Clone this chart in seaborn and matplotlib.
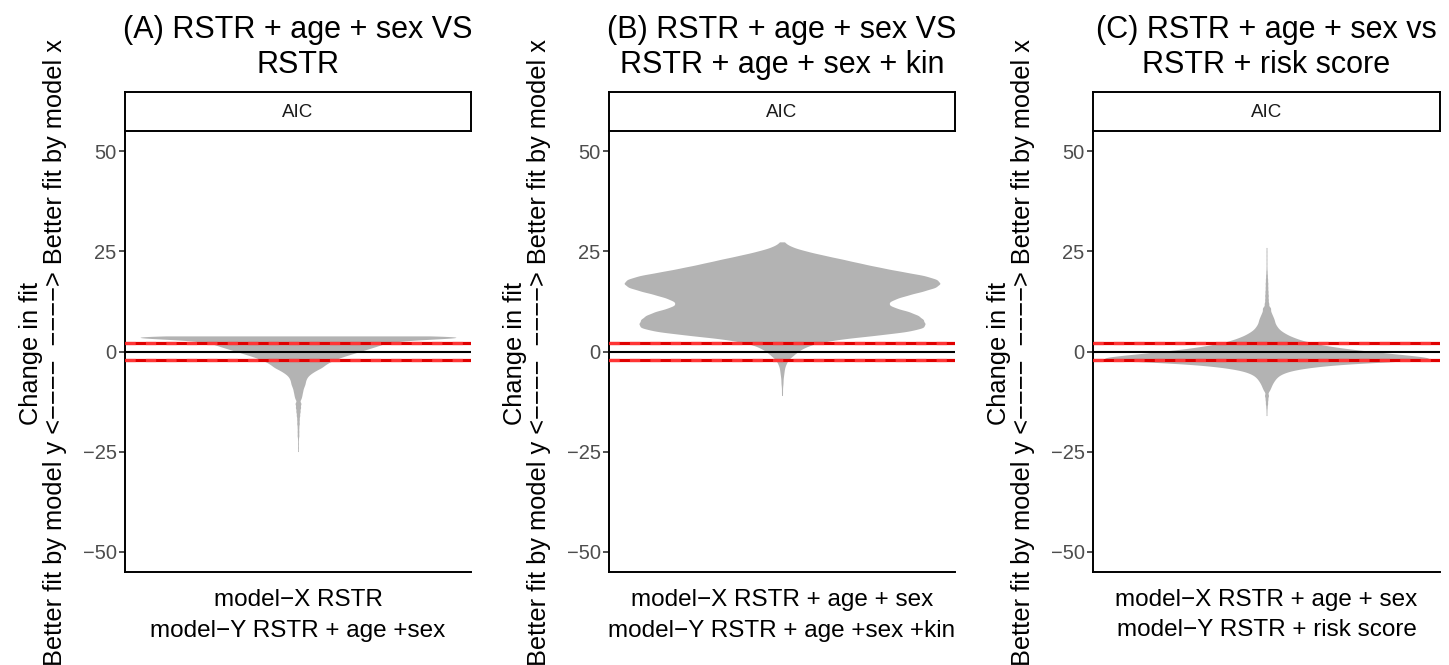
import numpy as np
import pandas as pd
import matplotlib
matplotlib.use("Agg")
import matplotlib.pyplot as plt
import seaborn as sns

sns.set_theme(style="white")
plt.rcParams["font.family"] = ["Liberation Sans", "DejaVu Sans"]

# ---- text ----
titles = [
    "(A) RSTR + age + sex VS\nRSTR",
    "(B) RSTR + age + sex VS\nRSTR + age + sex + kin",
    "(C) RSTR + age + sex vs\nRSTR + risk score",
]
xlabels = [
    "model\u2212X RSTR\nmodel\u2212Y RSTR + age +sex",
    "model\u2212X RSTR + age + sex\nmodel\u2212Y RSTR + age +sex +kin",
    "model\u2212X RSTR + age + sex\nmodel\u2212Y RSTR + risk score",
]
ylabel = ("Change in fit\n"
          "Better fit by model y <\u2212\u2212\u2212\u2212  \u2212\u2212\u2212\u2212> Better fit by model x")
strip_label = "AIC"
yticks = [-50, -25, 0, 25, 50]
ref_lines = [-2, 2]

# ---- change in AIC: binned values and how many runs fall in each ----
a_values = [3.9, 3.5, 3.0, 2.5, 2.0, 1.5, 1.0, 0.5, 0.0,
            -0.5, -1.0, -1.5, -2.0, -2.5, -3.0, -3.5, -4.0, -4.5, -5.0, -5.5, -6.0,
            -6.5, -7.0, -7.5, -8.0, -8.5, -9.0, -9.5, -10.0, -10.5, -11.0, -11.5, -12.0,
            -13, -14, -15, -16, -17, -18, -19, -20, -21, -22, -23, -24, -25]
a_counts = [200, 200, 150, 116, 106, 100, 92, 84, 76,
            68, 60, 52, 46, 40, 36, 32, 30, 24, 20, 16, 13,
            11, 10, 9, 9, 8, 7, 6, 6, 5, 5, 4, 4,
            7, 6, 5, 4, 3, 3, 2, 2, 2, 1, 1, 1, 1]

b_values = [27.4, 27, 26, 25, 24, 23, 22, 21, 20, 19, 18, 17, 16, 15, 14, 13,
            12, 11, 10, 9, 8, 7, 6, 5, 4, 3, 2, 1, 0,
            -1, -2, -3, -4, -5, -6, -7, -8, -9, -10, -11]
b_counts = [1, 6, 21, 48, 81, 117, 150, 186, 225, 270, 294, 300, 291, 264, 234, 210,
            198, 210, 240, 258, 267, 270, 270, 240, 174, 102, 63, 42, 30,
            21, 12, 8, 5, 4, 3, 2, 2, 1, 1, 1]

c_values = [26, 25, 24, 23, 22, 21, 20, 19, 18, 17, 16, 15, 14, 13, 12, 11,
            10.5, 10.0, 9.5, 9.0, 8.5, 8.0, 7.5, 7.0, 6.5,
            6.0, 5.5, 5.0, 4.5, 4.0, 3.5, 3.0, 2.5, 2.0, 1.5, 1.0, 0.5, 0.0,
            -0.5, -1.0, -1.5, -2.0, -2.5, -3.0, -3.5, -4.0, -4.5, -5.0, -5.5, -6.0,
            -6.5, -7.0, -7.5, -8.0, -8.5, -9.0, -9.5, -10.0,
            -11, -12, -13, -14, -15, -16]
c_counts = [2, 2, 2, 2, 2, 2, 3, 4, 5, 6, 6, 7, 8, 8, 10, 13,
            8, 10, 12, 14, 16, 18, 19, 20, 23,
            26, 30, 36, 44, 52, 64, 76, 92, 112, 136, 168, 200, 248,
            288, 340, 380, 400, 300, 200, 140, 100, 70, 50, 38, 29,
            24, 20, 17, 14, 12, 10, 8, 6,
            9, 6, 5, 3, 2, 2]

panel_values = [a_values, b_values, c_values]
panel_counts = [a_counts, b_counts, c_counts]
kde_bandwidth = [0.42, 0.6, 0.42]

# ---- layout (pixels) ----
W, H = 1449, 665
panel_left = [125, 609, 1093]
panel_width = [346, 346, 347]
ax_top, ax_bottom = 131, 572
strip_top = 92
x_half = [0.548, 0.548, 0.536]

fig = plt.figure(figsize=(W / 100, H / 100), dpi=100)
fig.patch.set_facecolor("white")

for i in range(3):
    l, w = panel_left[i], panel_width[i]
    cx = l + w / 2
    ax = fig.add_axes([l / W, (H - ax_bottom) / H, w / W, (ax_bottom - ax_top) / H])
    df = pd.DataFrame({"delta": np.repeat(panel_values[i], panel_counts[i])})
    bw = kde_bandwidth[i] / df["delta"].std()
    sns.violinplot(data=df, y="delta", ax=ax, color="#b3b3b3", saturation=1,
                   linewidth=0, inner=None, cut=0, width=1.0,
                   density_norm="width", bw_method=bw, gridsize=1500)
    ax.axhline(0, color="black", lw=1.5, zorder=3)
    for r in ref_lines:
        ax.axhline(r, color="#e00000", lw=2.3, zorder=3)
        ax.axhline(r, color="#ff3535", lw=2.3, dashes=(3.2, 3.2), zorder=4)
    ax.set_xlim(-x_half[i], x_half[i])
    ax.set_ylim(-55.1, 55.1)
    ax.set_yticks(yticks)
    ax.set_yticklabels([f"{t}".replace("-", "\u2212") for t in yticks])
    ax.set_xticks([])
    ax.set_xlabel("")
    ax.set_ylabel("")
    ax.set_facecolor("white")
    for s in ["top", "right"]:
        ax.spines[s].set_visible(False)
    for s in ["left", "bottom"]:
        ax.spines[s].set_color("black")
        ax.spines[s].set_linewidth(1.4)
    ax.tick_params(axis="y", length=4, width=1.2, color="#333333",
                   labelsize=14.5, labelcolor="#4d4d4d", pad=2, left=True)

    # facet strip
    sax = fig.add_axes([l / W, (H - ax_top) / H, w / W, (ax_top - strip_top) / H])
    sax.set_xticks([])
    sax.set_yticks([])
    sax.set_facecolor("white")
    for s in sax.spines.values():
        s.set_visible(True)
        s.set_color("black")
        s.set_linewidth(1.4)
    sax.text(0.5, 0.48, strip_label, ha="center", va="center", fontsize=13.5,
             color="#1a1a1a", transform=sax.transAxes)

    fig.text(cx / W, 1 - 15 / H, titles[i], ha="center", va="top",
             fontsize=22, linespacing=1.2, color="black")
    fig.text(cx / W, 1 - 589 / H, xlabels[i], ha="center", va="top",
             fontsize=17.5, linespacing=1.5, color="black")
    fig.text((l - 82) / W, (H - 353) / H, ylabel, rotation=90, ha="center",
             va="center", fontsize=18.3, linespacing=1.05, color="black",
             multialignment="center")

fig.savefig("out.png", dpi=100, facecolor="white")
